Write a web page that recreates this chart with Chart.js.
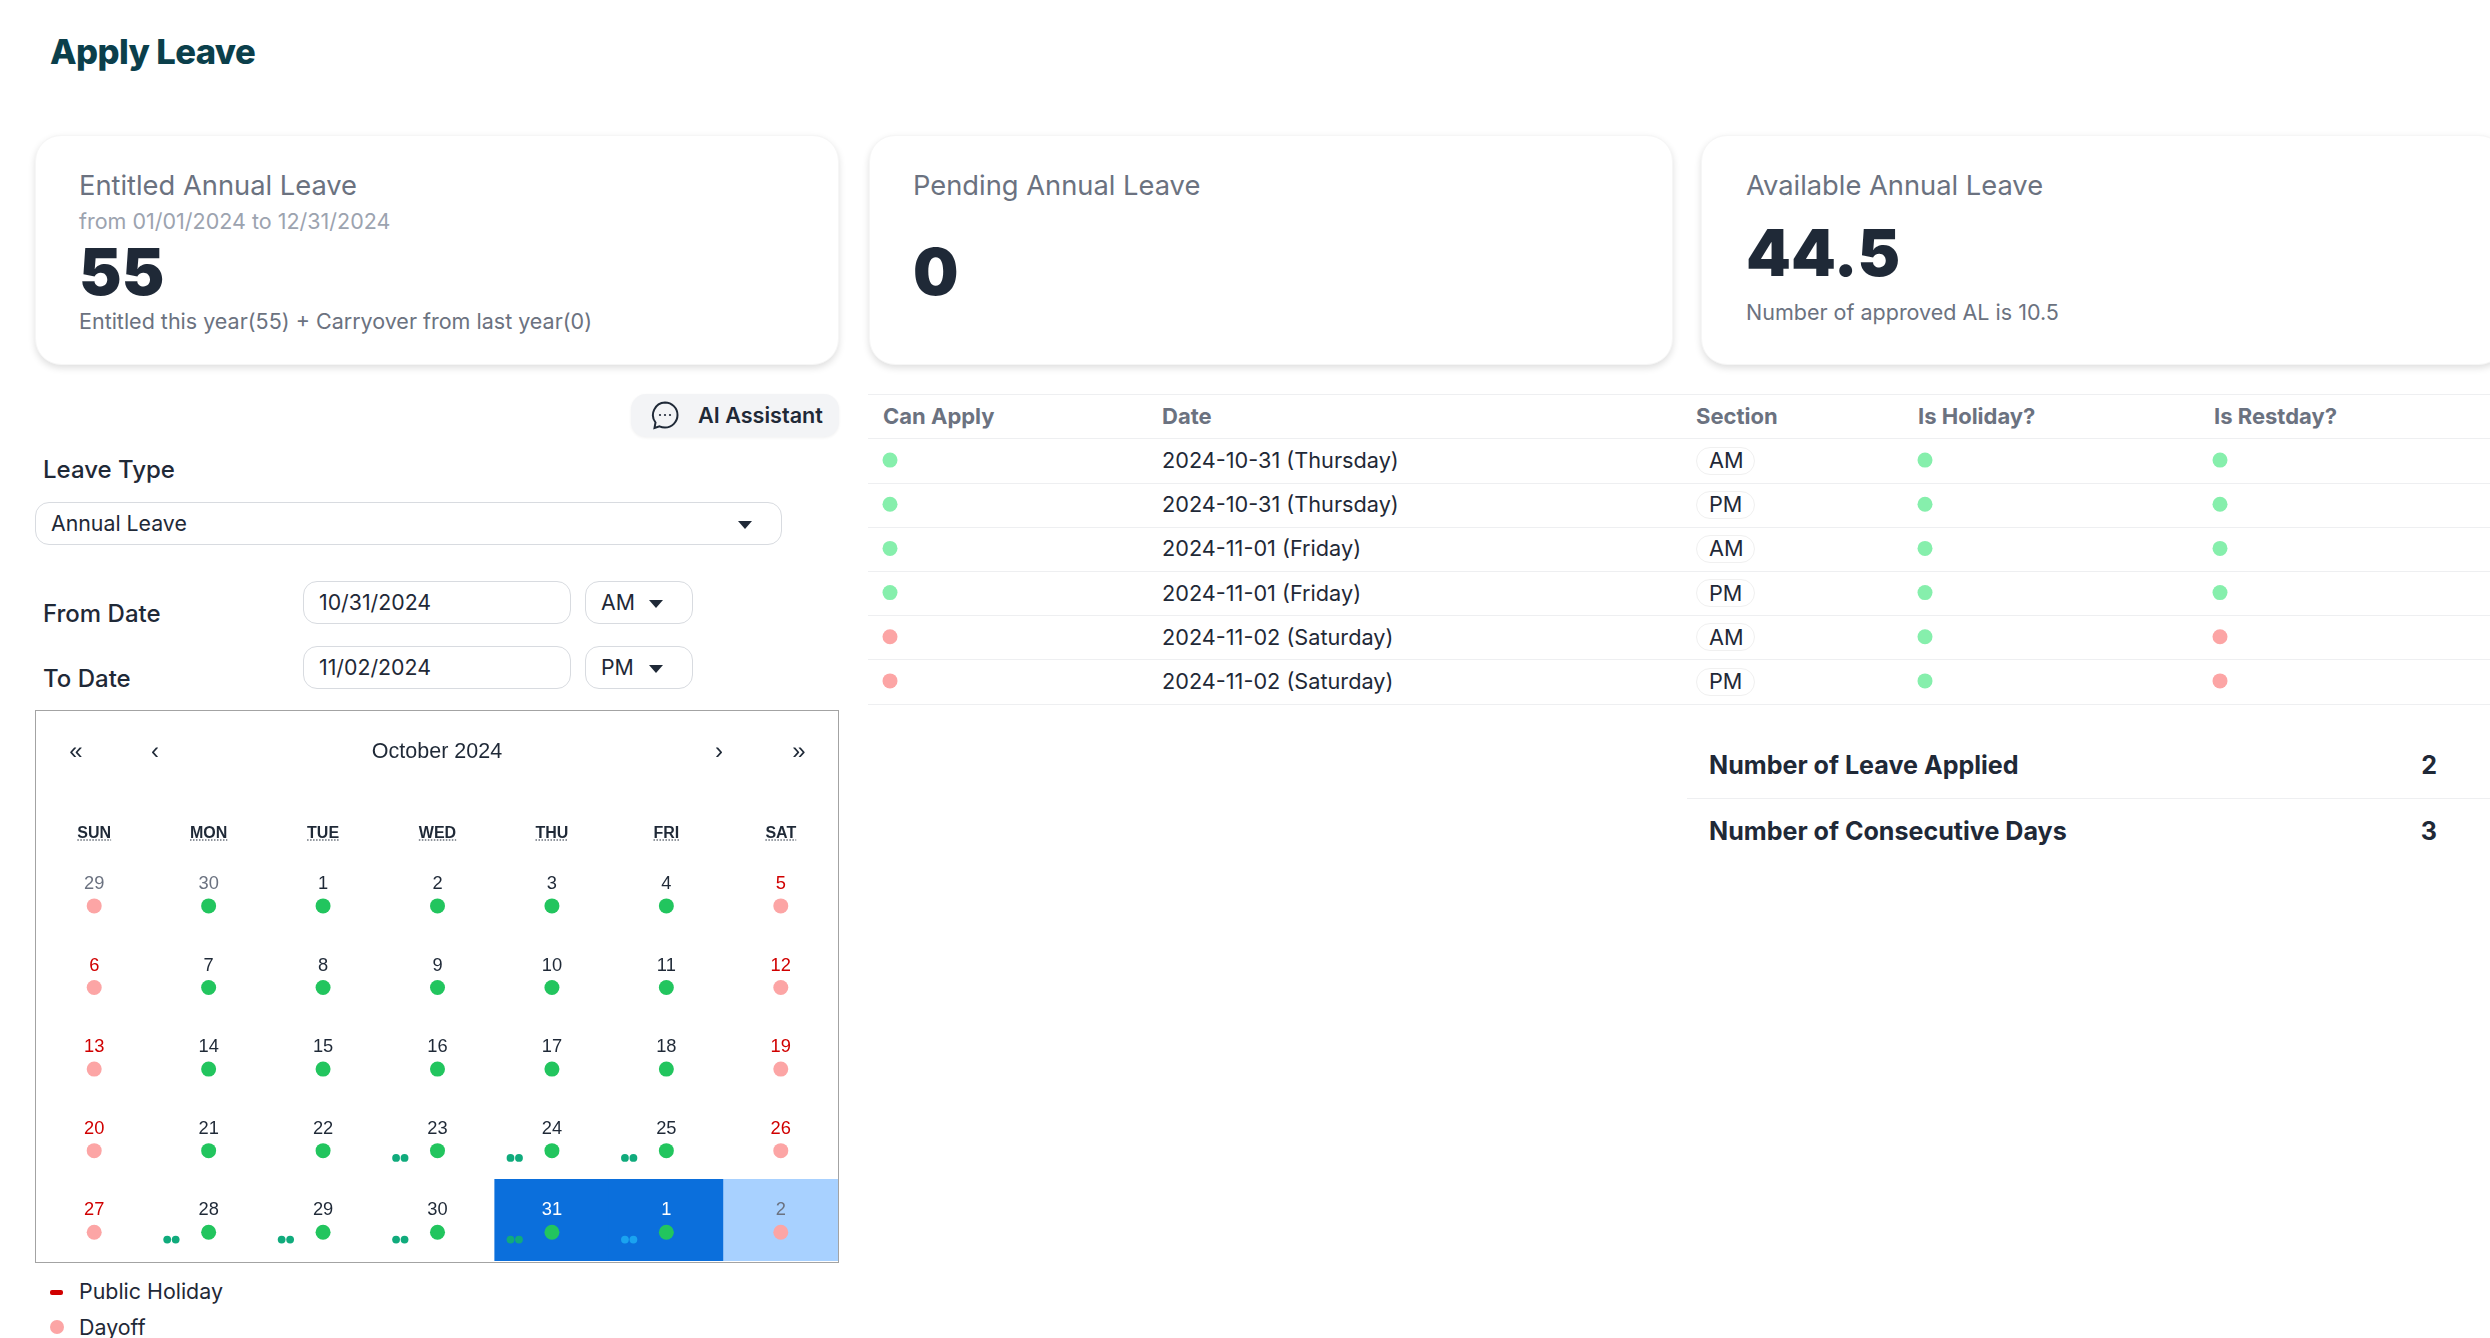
<!DOCTYPE html>
<html>
<head>
<meta charset="utf-8">
<title>Apply Leave</title>
<script src="https://cdn.jsdelivr.net/npm/chart.js@4/dist/chart.umd.min.js"></script>
<style>
html, body { margin: 0; padding: 0; background: #fff; }
body { width: 2490px; height: 1338px; overflow: hidden; position: relative; font-family: Inter, sans-serif; color: #1f2937; }
.t { position: absolute; white-space: nowrap; transform: translateY(-50%); line-height: 1.2; }
.card { position: absolute; top: 135px; height: 230px; width: 804px; box-sizing: border-box; background: #fff; border: 1px solid #f6f6f6; border-radius: 26px; box-shadow: 0 3px 7px rgba(0,0,0,.13); }
.field { position: absolute; box-sizing: border-box; height: 43px; border: 1.5px solid #d8dbe0; border-radius: 14px; background: #fff; }
.tri { position: absolute; width: 0; height: 0; border-left: 7px solid transparent; border-right: 7px solid transparent; border-top: 8px solid #1f2937; }
.cardTitle { font-size: 27.3px; color: #6b7280; }
.big { font-size: 64px; font-weight: 900; color: #1f2937; }
.sub { font-size: 21.5px; color: #6b7280; }
.label { font-size: 24px; font-weight: 500; }
.fieldText { font-size: 21.3px; }
.head { font-size: 22px; font-weight: 700; color: #6b7280; }
.cell { font-size: 21.7px; }
.pill { position: absolute; box-sizing: border-box; height: 28px; width: 59px; border: 1px solid #f0f0f0; border-radius: 14px; }
.line { position: absolute; left: 868px; right: 0; height: 1px; background: #eeeff1; }
.nav { font-family: "Liberation Sans", sans-serif; font-size: 24px; transform: translate(-50%, -50%); }
.sum { font-size: 25.1px; font-weight: 700; }
canvas { position: absolute; display: block; }
#calendar { position: absolute; left: 35px; top: 710px; width: 804px; height: 553px; box-sizing: border-box; border: 1.5px solid #a3a3a3; overflow: hidden; }
</style>
</head>
<body>
<div class="t" style="left:50px;top:52px;font-size:34.6px;font-weight:800;color:#0b3f4b;letter-spacing:-.6px">Apply Leave</div>

<div class="card" style="left:35px"></div>
<div class="card" style="left:869px"></div>
<div class="card" style="left:1701px"></div>

<div class="t cardTitle" style="left:79px;top:185.500px">Entitled Annual Leave</div>
<div class="t sub" style="left:79px;top:222px;color:#9ca3af">from 01/01/2024 to 12/31/2024</div>
<div class="t big" style="left:79px;top:272px">55</div>
<div class="t sub" style="left:79px;top:322px">Entitled this year(55) + Carryover from last year(0)</div>

<div class="t cardTitle" style="left:913px;top:185.500px">Pending Annual Leave</div>
<div class="t big" style="left:913px;top:272px">0</div>

<div class="t cardTitle" style="left:1746px;top:185.500px">Available Annual Leave</div>
<div class="t big" style="left:1746px;top:253px">44.5</div>
<div class="t sub" style="left:1746px;top:313px">Number of approved AL is 10.5</div>

<div style="position:absolute;left:631px;top:394px;width:208px;height:43px;background:#f3f4f6;border-radius:15px;box-shadow:0 1px 3px rgba(0,0,0,.06)"></div>
<svg style="position:absolute;left:650px;top:400px" width="30" height="30" viewBox="0 0 30 30" fill="none" stroke="#1f2937" stroke-width="2">
  <path d="M15 2.5a12.5 12.5 0 0 1 0 25c-2 0-3.800-.4-5.500-1.200L4.500 28l1-5.500A12.500 12.500 0 0 1 15 2.500z"/>
  <circle cx="10" cy="15" r="1.100" fill="#1f2937" stroke="none"/><circle cx="15" cy="15" r="1.100" fill="#1f2937" stroke="none"/><circle cx="20" cy="15" r="1.100" fill="#1f2937" stroke="none"/>
</svg>
<div class="t" style="left:698px;top:416px;font-size:21.6px;font-weight:600">AI Assistant</div>

<div class="t label" style="left:43px;top:470px">Leave Type</div>
<div class="field" style="left:35px;top:502px;width:747px"></div>
<div class="t fieldText" style="left:51px;top:524px">Annual Leave</div>
<div class="tri" style="left:738px;top:521px"></div>

<div class="t label" style="left:43px;top:614px">From Date</div>
<div class="field" style="left:303px;top:581px;width:268px"></div>
<div class="t fieldText" style="left:319px;top:603px">10/31/2024</div>
<div class="field" style="left:585px;top:581px;width:108px"></div>
<div class="t fieldText" style="left:601px;top:603px">AM</div>
<div class="tri" style="left:649px;top:600px"></div>

<div class="t label" style="left:43px;top:679px">To Date</div>
<div class="field" style="left:303px;top:646px;width:268px"></div>
<div class="t fieldText" style="left:319px;top:668px">11/02/2024</div>
<div class="field" style="left:585px;top:646px;width:108px"></div>
<div class="t fieldText" style="left:601px;top:668px">PM</div>
<div class="tri" style="left:649px;top:665px"></div>

<div id="calendar"><canvas id="calendarChart" width="801" height="550" style="left:1px"></canvas></div>
<div class="t nav" style="left:76px;top:751px">«</div>
<div class="t nav" style="left:155px;top:751px">‹</div>
<div class="t nav" style="left:437px;top:752px;font-size:21.5px">October 2024</div>
<div class="t nav" style="left:719px;top:751px">›</div>
<div class="t nav" style="left:799px;top:751px">»</div>

<div style="position:absolute;left:50px;top:1290px;width:13px;height:4.500px;background:#d00000;border-radius:2px"></div>
<div class="t" style="left:79px;top:1292px;font-size:21.4px">Public Holiday</div>
<div style="position:absolute;left:50px;top:1320px;width:14px;height:14px;background:#fca5a5;border-radius:50%"></div>
<div class="t" style="left:79px;top:1328px;font-size:21.4px">Dayoff</div>

<div id="table"></div>
<canvas id="canApplyChart" width="28" height="265" style="left:876px;top:438px"></canvas>
<canvas id="isHolidayChart" width="28" height="265" style="left:1911px;top:438px"></canvas>
<canvas id="isRestdayChart" width="28" height="265" style="left:2206px;top:438px"></canvas>

<div class="t sum" style="left:1709px;top:765px">Number of Leave Applied</div>
<div class="t sum" style="right:53px;top:765px">2</div>
<div style="position:absolute;left:1687px;right:0;top:798px;height:1px;background:#eeeff1"></div>
<div class="t sum" style="left:1709px;top:831px">Number of Consecutive Days</div>
<div class="t sum" style="right:53px;top:831px">3</div>

<script>
const weekDays = ['SUN', 'MON', 'TUE', 'WED', 'THU', 'FRI', 'SAT'];
const calendarDays = [
    [29, 30, 1, 2, 3, 4, 5],
    [6, 7, 8, 9, 10, 11, 12],
    [13, 14, 15, 16, 17, 18, 19],
    [20, 21, 22, 23, 24, 25, 26],
    [27, 28, 29, 30, 31, 1, 2],
];
// w = working day, o = day off
const dayStatus = [
    ['o', 'w', 'w', 'w', 'w', 'w', 'o'],
    ['o', 'w', 'w', 'w', 'w', 'w', 'o'],
    ['o', 'w', 'w', 'w', 'w', 'w', 'o'],
    ['o', 'w', 'w', 'w', 'w', 'w', 'o'],
    ['o', 'w', 'w', 'w', 'w', 'w', 'o'],
];
// n = normal, m = other month, r = red day, s = selected
const dayText = [
    ['m', 'm', 'n', 'n', 'n', 'n', 'r'],
    ['r', 'n', 'n', 'n', 'n', 'n', 'r'],
    ['r', 'n', 'n', 'n', 'n', 'n', 'r'],
    ['r', 'n', 'n', 'n', 'n', 'n', 'r'],
    ['r', 'n', 'n', 'n', 's', 's', 'm'],
];
// [week, weekday] of the cells with the two small dots
const pairCells = [[3, 3], [3, 4], [3, 5], [4, 1], [4, 2], [4, 3], [4, 4], [4, 5]];
const selectedWeek = [4, 5];
const selectedRange = [null, null, null, null, selectedWeek, selectedWeek, selectedWeek];

const tableDates = ['2024-10-31 (Thursday)', '2024-10-31 (Thursday)', '2024-11-01 (Friday)', '2024-11-01 (Friday)', '2024-11-02 (Saturday)', '2024-11-02 (Saturday)'];
const tableSections = ['AM', 'PM', 'AM', 'PM', 'AM', 'PM'];
const canApply = [1, 1, 1, 1, 0, 0];
const isHoliday = [1, 1, 1, 1, 1, 1];
const isRestday = [1, 1, 1, 1, 0, 0];

const GREEN = '#22c55e', PINK = '#fca5a5', LIGHT_GREEN = '#86efac';
const TEXT_COLORS = { n: '#1f2937', m: '#6b7280', r: '#d00000', s: '#ffffff' };
const CELL_COLORS = ['', '', '', '', '#0b6fdc', '#0b6fdc', '#a8d1ff'];
const CAL_FONT = '"Liberation Sans", sans-serif';
const NUMBER_POS = 0.38, DOT_POS = 0.648, PAIR_POS = 0.737;
const PAIR_SHIFT = [-0.362, -0.288];

// plain text bits of the table
const tableEl = document.getElementById('table');
function addText(cls, left, top, text) {
    const el = document.createElement('div');
    el.className = 't ' + cls;
    el.style.left = left + 'px';
    el.style.top = top + 'px';
    el.textContent = text;
    tableEl.appendChild(el);
}
function addLine(top) {
    const el = document.createElement('div');
    el.className = 'line';
    el.style.top = top + 'px';
    tableEl.appendChild(el);
}
const ROW_H = 44.2, ROWS_TOP = 438.4;
addLine(394);
addText('head', 883, 416, 'Can Apply');
addText('head', 1162, 416, 'Date');
addText('head', 1696, 416, 'Section');
addText('head', 1918, 416, 'Is Holiday?');
addText('head', 2214, 416, 'Is Restday?');
addLine(ROWS_TOP);
tableDates.forEach((d, i) => {
    const mid = ROWS_TOP + ROW_H * (i + 0.5);
    addText('cell', 1162, mid - 0.5, d);
    const pill = document.createElement('div');
    pill.className = 'pill';
    pill.style.left = '1696px';
    pill.style.top = (mid - 14) + 'px';
    tableEl.appendChild(pill);
    addText('cell', 1709, mid - 0.5, tableSections[i]);
    addLine(ROWS_TOP + ROW_H * (i + 1));
});

const mainDots = [];
calendarDays.forEach((week, w) => week.forEach((d, c) => {
    mainDots.push({ x: weekDays[c], y: w + DOT_POS, color: dayStatus[w][c] === 'o' ? PINK : GREEN });
}));
const pairDots = [];
pairCells.forEach(([w, c]) => PAIR_SHIFT.forEach(s => {
    const onFriday = w === 4 && c === 5;
    pairDots.push({ x: c + 0.5 + s, y: w + PAIR_POS, color: onFriday ? '#1aa3f0' : '#10ab7c' });
}));

const calendarText = {
    id: 'calendarText',
    afterDatasetsDraw(chart) {
        const { ctx, scales: { x, y } } = chart;
        ctx.save();
        ctx.textAlign = 'center';
        ctx.textBaseline = 'middle';
        ctx.font = '18.3px ' + CAL_FONT;
        calendarDays.forEach((week, w) => week.forEach((d, c) => {
            ctx.fillStyle = TEXT_COLORS[dayText[w][c]];
            ctx.fillText(String(d), x.getPixelForValue(c), y.getPixelForValue(w + NUMBER_POS));
        }));
        ctx.restore();
    },
    afterDraw(chart) {
        // dotted underline under the weekday names
        const { ctx, scales: { x }, chartArea } = chart;
        ctx.save();
        ctx.font = 'bold 16px ' + CAL_FONT;
        ctx.strokeStyle = '#1f2937';
        ctx.lineWidth = 1.2;
        ctx.setLineDash([1.5, 1.5]);
        weekDays.forEach((name, c) => {
            const w = ctx.measureText(name).width;
            const px = x.getPixelForValue(c);
            ctx.beginPath();
            ctx.moveTo(px - w / 2, chartArea.top - 13);
            ctx.lineTo(px + w / 2, chartArea.top - 13);
            ctx.stroke();
        });
        ctx.restore();
    }
};

new Chart(document.getElementById('calendarChart').getContext('2d'), {
    type: 'bar',
    plugins: [calendarText],
    data: {
        labels: weekDays,
        datasets: [
            { type: 'bar', data: selectedRange, backgroundColor: CELL_COLORS, grouped: false, barPercentage: 1, categoryPercentage: 1, borderSkipped: false, order: 3 },
            { type: 'line', data: mainDots, showLine: false, pointRadius: 7.5, pointBorderWidth: 0, pointBackgroundColor: ctx => ctx.raw ? ctx.raw.color : GREEN, order: 1 },
            { type: 'line', xAxisID: 'xPair', data: pairDots, showLine: false, pointRadius: 3.9, pointBorderWidth: 0, pointBackgroundColor: ctx => ctx.raw ? ctx.raw.color : GREEN, order: 1 },
        ]
    },
    options: {
        responsive: false,
        animation: false,
        devicePixelRatio: 1,
        events: [],
        layout: { autoPadding: false, padding: 0 },
        plugins: { legend: { display: false }, tooltip: { enabled: false }, title: { display: false } },
        scales: {
            x: {
                type: 'category',
                position: 'top',
                offset: true,
                grid: { display: false, drawTicks: false },
                border: { display: false },
                ticks: { color: '#1f2937', padding: 10, maxRotation: 0, autoSkip: false, font: { family: CAL_FONT, size: 16, weight: 'bold' } },
                afterFit(scale) { scale.height = 142; },
            },
            xPair: { type: 'linear', axis: 'x', display: false, offset: false, min: 0, max: 7 },
            y: { type: 'linear', display: false, min: 0, max: 5, reverse: true },
        }
    }
});

function statusColumn(canvasId, name, values) {
    const rows = tableDates.map((d, i) => d + ' ' + tableSections[i]);
    new Chart(document.getElementById(canvasId).getContext('2d'), {
        type: 'line',
        data: {
            datasets: [{
                data: values.map((v, i) => ({ x: name, y: rows[i] })),
                showLine: false,
                pointRadius: 7.5,
                pointBorderWidth: 0,
                pointBackgroundColor: values.map(v => v ? LIGHT_GREEN : PINK),
            }]
        },
        options: {
            responsive: false,
            animation: false,
            devicePixelRatio: 1,
            events: [],
            layout: { autoPadding: false, padding: 0 },
            plugins: { legend: { display: false }, tooltip: { enabled: false } },
            scales: {
                x: { type: 'category', labels: [name], display: false, offset: true },
                y: { type: 'category', labels: rows, display: false, offset: true },
            }
        }
    });
}
statusColumn('canApplyChart', 'Can Apply', canApply);
statusColumn('isHolidayChart', 'Is Holiday?', isHoliday);
statusColumn('isRestdayChart', 'Is Restday?', isRestday);
</script>
</body>
</html>
